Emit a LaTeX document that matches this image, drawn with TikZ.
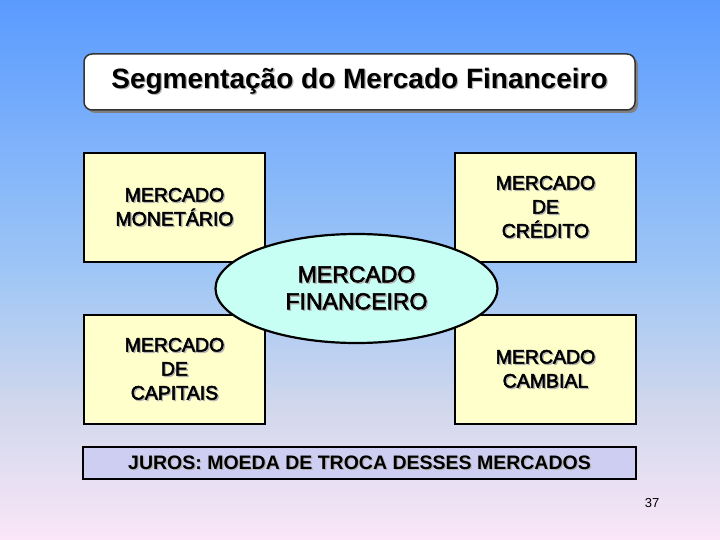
\documentclass[tikz,border=0pt]{standalone}
\usepackage{fontspec}
\setmainfont{Liberation Sans}
\newfontfamily\medfont{Liberation Sans}[FakeBold=2.5]
\usetikzlibrary{positioning, shapes.geometric, shadows}

\definecolor{bgtop}{RGB}{90,155,255}
\definecolor{bgmid}{RGB}{158,198,246}
\definecolor{bglow}{RGB}{210,216,236}
\definecolor{bgbot}{RGB}{250,230,248}
\definecolor{boxfill}{RGB}{255,255,204}
\definecolor{ellfill}{RGB}{200,255,245}
\definecolor{barfill}{RGB}{206,206,242}
\pgfdeclareverticalshading{slidebg}{100bp}{color(0bp)=(bgbot); color(25bp)=(bgbot); color(37bp)=(bglow); color(50bp)=(bgmid); color(75bp)=(bgtop); color(100bp)=(bgtop)}

% text with a light shadow
\newcommand{\shd}[1]{\rlap{\kern1.3pt\raisebox{-1.3pt}{\textcolor{black!30}{#1}}}#1}

\begin{document}
\begin{tikzpicture}[x=1pt, y=-1pt,
    mbox/.style={draw, line width=2.2pt, fill=boxfill,
                 minimum width=181pt, minimum height=109pt,
                 inner sep=0pt, outer sep=0pt, align=center,
                 font=\medfont\fontsize{19.5}{24}\selectfont}]

  \shade[shading=slidebg] (0,0) rectangle (720,540);

  \node[draw=black!80, line width=1.5pt, rounded corners=8pt, fill=white,
        minimum width=551pt, minimum height=56pt,
        drop shadow={shadow xshift=3pt, shadow yshift=-3pt, fill=black!50, opacity=1},
        font=\bfseries\fontsize{28}{30}\selectfont] (title) at (359.5,82)
        {\shd{Segmentação do Mercado Financeiro}};

  \node[mbox] (mon) at (174.5,207.5) {\shd{MERCADO}\\\shd{MONETÁRIO}};
  \node[mbox, right=190pt of mon] (cred) {\shd{MERCADO}\\\shd{DE}\\\shd{CRÉDITO}};
  \node[mbox, below=53pt of mon] (cap) {\shd{MERCADO}\\\shd{DE}\\\shd{CAPITAIS}};
  \node[mbox, below=53pt of cred] (camb) {\shd{MERCADO}\\\shd{CAMBIAL}};

  \node[ellipse, draw, line width=2.2pt, fill=ellfill,
        minimum width=282pt, minimum height=109pt, inner sep=0pt,
        align=center, font=\medfont\fontsize{23}{27}\selectfont] (fin) at (356.5,288.5)
        {\shd{MERCADO}\\\shd{FINANCEIRO}};

  \node[draw, line width=2.2pt, fill=barfill, minimum width=553pt, minimum height=32pt,
        inner sep=0pt, font=\bfseries\fontsize{19.5}{22}\selectfont] (juros) at (359.5,463)
        {\shd{JUROS: MOEDA DE TROCA DESSES MERCADOS}};

  \node[font=\fontsize{13}{13}\selectfont] (pg) at (652,503) {37};

\end{tikzpicture}
\end{document}
